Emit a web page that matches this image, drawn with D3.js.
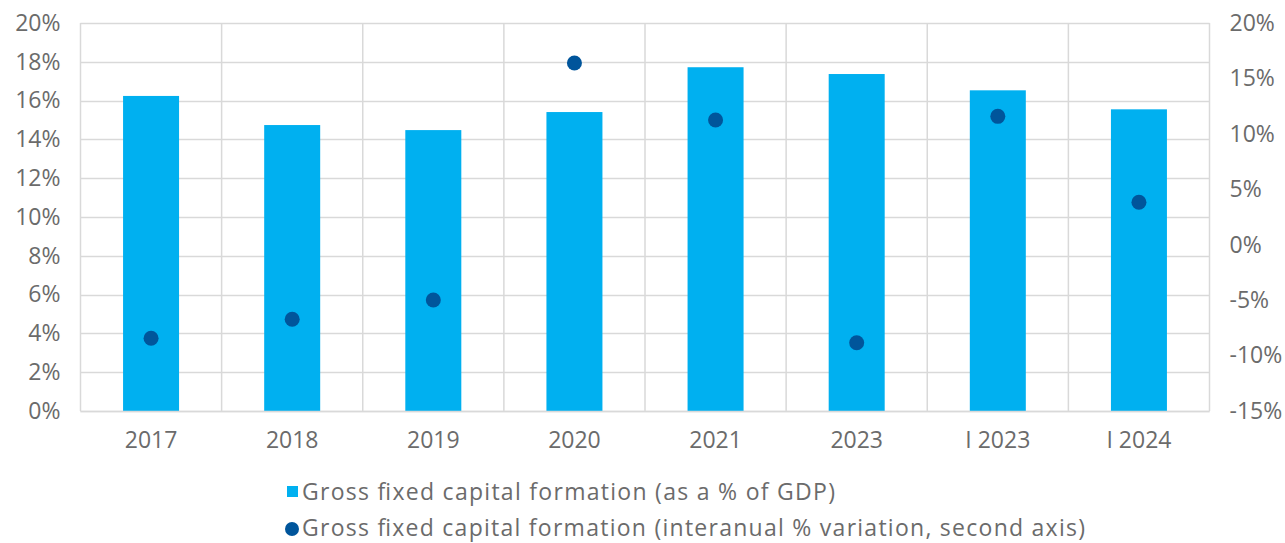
<!DOCTYPE html>
<html>
<head>
<meta charset="utf-8">
<script src="https://cdn.jsdelivr.net/npm/d3@7"></script>
<style>
  html, body { margin: 0; padding: 0; background: #fff; }
  svg { display: block; }
  text { font-family: "Open Sans", "Noto Sans", sans-serif; fill: #6b6b6b; }
</style>
</head>
<body>
<svg id="chart" width="1285" height="543"></svg>
<script>
// Categories and series
const categories = ["2017", "2018", "2019", "2020", "2021", "2023", "I 2023", "I 2024"];
const gfcfShareGDP = [16.24, 14.74, 14.48, 15.41, 17.72, 17.37, 16.53, 15.55];   // % of GDP (left axis)
const gfcfYoY = [-8.44, -6.73, -4.99, 16.39, 11.25, -8.84, 11.58, 3.83];          // interannual % (right axis)
const leftTicks = [0, 2, 4, 6, 8, 10, 12, 14, 16, 18, 20];
const rightTicks = [-15, -10, -5, 0, 5, 10, 15, 20];
const legendLabels = [
  "Gross fixed capital formation (as a % of GDP)",
  "Gross fixed capital formation (interanual % variation, second axis)"
];

const barColor = "#00B0F0";
const dotColor = "#00559B";
const gridColor = "#D9D9D9";
const textColor = "#6b6b6b";
const fontSize = 23;

const svg = d3.select("#chart");
const plot = { left: 80.5, right: 1209.5, top: 23, bottom: 411 };

const x = d3.scaleBand().domain(categories).range([plot.left, plot.right]).paddingInner(0).paddingOuter(0);
const yL = d3.scaleLinear().domain([0, 20]).range([plot.bottom, plot.top]);
const yR = d3.scaleLinear().domain([-15, 20]).range([plot.bottom, plot.top]);

// Horizontal gridlines
svg.append("g").selectAll("line").data(leftTicks).join("line")
  .attr("x1", plot.left).attr("x2", plot.right)
  .attr("y1", d => Math.round(yL(d)) + 0.5).attr("y2", d => Math.round(yL(d)) + 0.5)
  .attr("stroke", gridColor).attr("stroke-width", 1.5);

// Vertical gridlines at category boundaries
const bounds = categories.map(c => x(c)).concat([plot.right]);
svg.append("g").selectAll("line").data(bounds).join("line")
  .attr("x1", d => d).attr("x2", d => d)
  .attr("y1", plot.top).attr("y2", plot.bottom)
  .attr("stroke", gridColor).attr("stroke-width", 1.5);

// Bars
const barW = 56;
svg.append("g").selectAll("rect").data(categories).join("rect")
  .attr("x", c => x(c) + x.bandwidth() / 2 - barW / 2)
  .attr("width", barW)
  .attr("y", (c, i) => yL(gfcfShareGDP[i]))
  .attr("height", (c, i) => yL(0) - yL(gfcfShareGDP[i]))
  .attr("fill", barColor);

// Bottom axis line
svg.append("line")
  .attr("x1", plot.left).attr("x2", plot.right)
  .attr("y1", plot.bottom + 0.5).attr("y2", plot.bottom + 0.5)
  .attr("stroke", gridColor).attr("stroke-width", 1.5);

// Dots on secondary axis
svg.append("g").selectAll("circle").data(categories).join("circle")
  .attr("cx", c => x(c) + x.bandwidth() / 2)
  .attr("cy", (c, i) => yR(gfcfYoY[i]))
  .attr("r", 7.5)
  .attr("fill", dotColor);

const styleTicks = g => {
  g.select(".domain").remove();
  g.selectAll("text").attr("font-size", fontSize).attr("fill", textColor)
    .style("font-family", '"Open Sans", sans-serif');
};

// Left axis labels
const fmt = d => d + "%";
svg.append("g").attr("transform", `translate(${plot.left},0)`)
  .call(d3.axisLeft(yL).tickValues(leftTicks).tickFormat(fmt).tickSize(0).tickPadding(20))
  .call(styleTicks);

// Right axis labels
svg.append("g").attr("transform", `translate(${plot.right},0)`)
  .call(d3.axisRight(yR).tickValues(rightTicks).tickFormat(fmt).tickSize(0).tickPadding(20))
  .call(styleTicks);

// Category labels
svg.append("g").attr("transform", `translate(0,${plot.bottom})`)
  .call(d3.axisBottom(x).tickSize(0).tickPadding(21))
  .call(styleTicks);

// Legend
const lg = svg.append("g");
lg.append("rect").attr("x", 287).attr("y", 486).attr("width", 11).attr("height", 11).attr("fill", barColor);
lg.append("text").attr("x", 302).attr("y", 500).attr("font-size", fontSize)
  .attr("textLength", 533).attr("lengthAdjust", "spacing").text(legendLabels[0]);
lg.append("circle").attr("cx", 292).attr("cy", 529).attr("r", 7).attr("fill", dotColor);
lg.append("text").attr("x", 302).attr("y", 536).attr("font-size", fontSize)
  .attr("textLength", 783).attr("lengthAdjust", "spacing").text(legendLabels[1]);
</script>
</body>
</html>
